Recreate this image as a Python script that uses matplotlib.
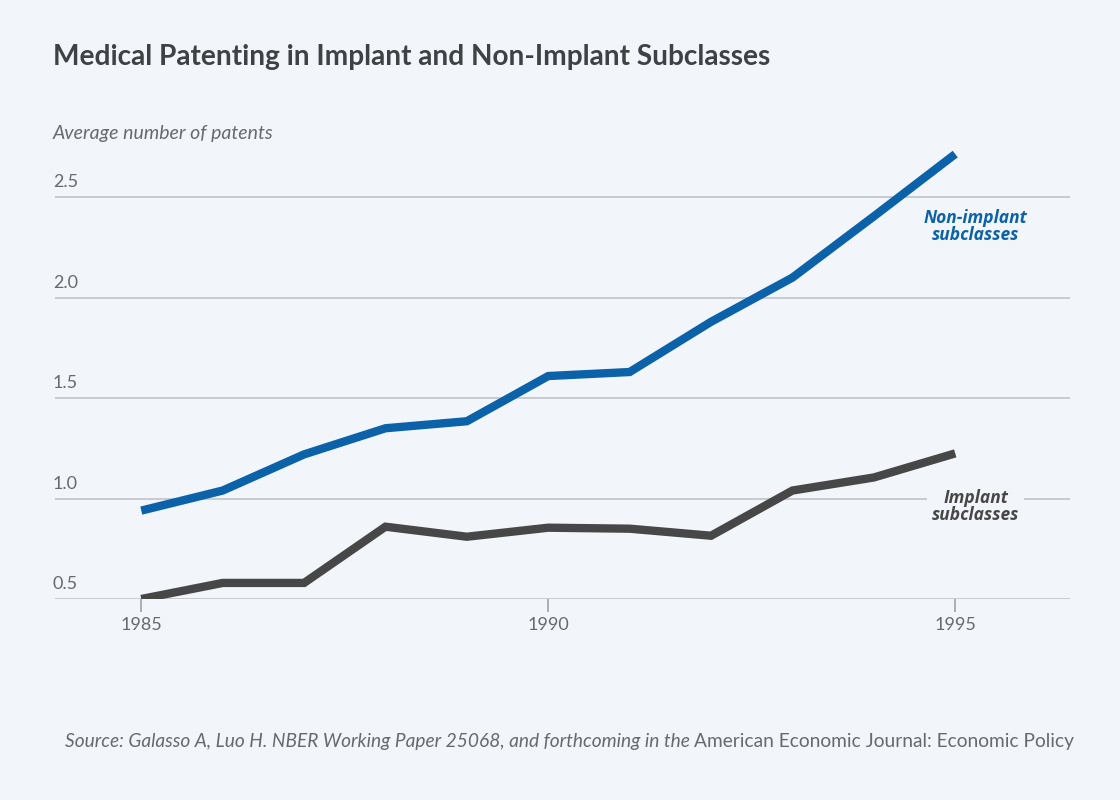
import matplotlib
matplotlib.use("Agg")
import matplotlib.pyplot as plt
import matplotlib.transforms as mtransforms

years = [1985, 1986, 1987, 1988, 1989, 1990, 1991, 1992, 1993, 1994, 1995]
non_implant = [0.94, 1.04, 1.22, 1.35, 1.385, 1.61, 1.63, 1.88, 2.10, 2.405, 2.715]
implant = [0.50, 0.58, 0.58, 0.86, 0.81, 0.855, 0.85, 0.815, 1.04, 1.105, 1.225]
y_ticks = [0.5, 1.0, 1.5, 2.0, 2.5]
x_ticks = [1985, 1990, 1995]

bg = "#f2f6fa"
blue = "#0b62a8"
dark = "#474747"
grid_c = "#c4c8cc"
text_c = "#666a6e"
reg = ["Lato", "DejaVu Sans"]
lab = ["Open Sans", "DejaVu Sans"]

fig = plt.figure(figsize=(11.2, 8), dpi=100, facecolor=bg)
ax = fig.add_axes([55 / 1120, 201 / 800, 1015 / 1120, 462 / 800])
ax.set_facecolor(bg)
ax.set_xlim(1983.94, 1996.41)
ax.set_ylim(0.5, 2.8)
for s in ax.spines.values():
    s.set_visible(False)

# gridlines (the 0.5 one is the baseline)
for y in y_ticks:
    ax.axhline(y, color=grid_c, lw=1.3, zorder=1)

ax.plot(years, non_implant, color=blue, lw=6, solid_capstyle="butt",
        solid_joinstyle="miter", zorder=3)
ax.plot(years, implant, color=dark, lw=6, solid_capstyle="butt",
        solid_joinstyle="miter", zorder=3)

# y labels sit above the gridlines
tr = mtransforms.blended_transform_factory(ax.transAxes, ax.transData)
for y in y_ticks:
    ax.text(-0.002, y + 0.035, f"{y:.1f}", transform=tr, ha="left", va="bottom",
            fontsize=13, color=text_c, family=reg)

ax.set_yticks([])
ax.set_xticks(x_ticks)
ax.set_xticklabels([str(x) for x in x_ticks], family=reg, fontsize=13, color=text_c)
ax.tick_params(axis="x", length=9, width=1.2, color="#a0a4a8", pad=4)

ax.text(1995.25, 2.355, "Non-implant\nsubclasses", color=blue, fontsize=12.5,
        fontweight="bold", fontstyle="italic", ha="center", va="center",
        linespacing=0.98, family=lab, zorder=4)
ax.text(1995.25, 0.96, "Implant\nsubclasses", color=dark, fontsize=12.5,
        fontweight="bold", fontstyle="italic", ha="center", va="center",
        linespacing=0.98, family=lab, zorder=4,
        bbox=dict(boxstyle="square,pad=0.3", fc=bg, ec="none"))

fig.text(53 / 1120, 1 - 57 / 800, "Medical Patenting in Implant and Non-Implant Subclasses",
         fontsize=20.2, fontweight="bold", color="#3f4244", ha="left", va="center",
         family=reg)
fig.text(53 / 1120, 1 - 133 / 800, "Average number of patents", fontsize=14,
         fontstyle="italic", color=text_c, ha="left", va="center", family=reg)

src = fig.text(65 / 1120, 1 - 742 / 800,
               "Source: Galasso A, Luo H. NBER Working Paper 25068, and forthcoming in the ",
               fontsize=12, fontstyle="italic", color=text_c, ha="left", va="center",
               family=reg)
src2 = ax.annotate("American Economic Journal: Economic Policy", xy=(1, 0.5), xycoords=src,
                   ha="left", va="center", fontsize=12, color=text_c, family=reg,
                   annotation_clip=False)

# shrink the source line so it ends near x = 1070 px
fig.canvas.draw()
r = fig.canvas.get_renderer()
right = src2.get_window_extent(r).x1
scale = (1070 - 65) / (right - 65)
src.set_fontsize(12 * scale)
src2.set_fontsize(12 * scale)

fig.savefig("out.png", dpi=100, facecolor=bg)
